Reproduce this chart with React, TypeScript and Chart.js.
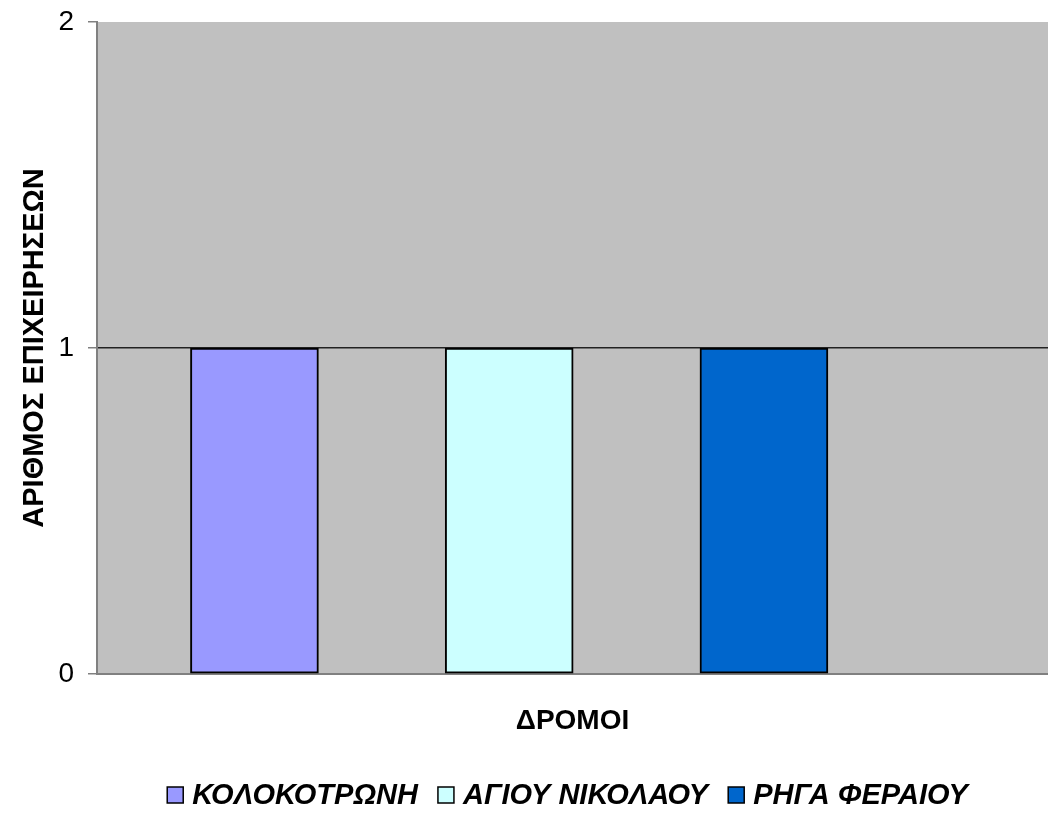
import React, { useEffect, useRef } from "react";
import { Chart, registerables } from "chart.js";

Chart.register(...registerables);

const streets = ["ΚΟΛΟΚΟΤΡΩΝΗ", "ΑΓΙΟΥ ΝΙΚΟΛΑΟΥ", "ΡΗΓΑ ΦΕΡΑΙΟΥ"];
const businessCounts = [1, 1, 1];
const barColors = ["#9999FF", "#CCFFFF", "#0066CC"];
const yTickValues = [0, 1, 2];
const xAxisTitle = "ΔΡΟΜΟΙ";
const yAxisTitle = "ΑΡΙΘΜΟΣ ΕΠΙΧΕΙΡΗΣΕΩΝ";

const FONT = "'Liberation Sans', Arial, Helvetica, sans-serif";

const plotBackground = {
  id: "plotBackground",
  beforeDraw(chart: any) {
    const { ctx, chartArea } = chart;
    ctx.save();
    ctx.fillStyle = "#C0C0C0";
    ctx.fillRect(chartArea.left, chartArea.top, chartArea.right - chartArea.left, chartArea.bottom - chartArea.top);
    ctx.restore();
  },
};

const bottomLegend = {
  id: "bottomLegend",
  afterDraw(chart: any) {
    const { ctx, chartArea } = chart;
    const datasets = chart.data.datasets;
    const font = `italic bold 29px ${FONT}`;
    const box = 16;
    const boxGap = 9;
    const itemGap = 20;
    ctx.save();
    ctx.font = font;
    const widths = datasets.map((d: any) => ctx.measureText(d.label).width);
    const total = widths.reduce((a: number, w: number) => a + box + boxGap + w, 0) + itemGap * (datasets.length - 1);
    const cx = (chartArea.left + chartArea.right) / 2 - 5;
    let x = cx - total / 2;
    const y = 795;
    datasets.forEach((d: any, i: number) => {
      ctx.fillStyle = d.backgroundColor;
      ctx.fillRect(x, y - box / 2, box, box);
      ctx.lineWidth = 1.5;
      ctx.strokeStyle = "#000";
      ctx.strokeRect(x, y - box / 2, box, box);
      x += box + boxGap;
      ctx.fillStyle = "#000";
      ctx.textBaseline = "middle";
      ctx.textAlign = "left";
      ctx.fillText(d.label, x, y + 1);
      x += widths[i] + itemGap;
    });
    ctx.restore();
  },
};

export default function App() {
  const canvasRef = useRef<HTMLCanvasElement | null>(null);

  useEffect(() => {
    if (!canvasRef.current) return;
    const chart = new Chart(canvasRef.current, {
      type: "bar",
      data: {
        datasets: streets.map((s, i) => ({
          label: s,
          data: [{ x: i + 1, y: businessCounts[i] }],
          backgroundColor: barColors[i],
          borderColor: "#000000",
          borderWidth: 2,
          borderSkipped: false,
          grouped: false,
          categoryPercentage: 1,
          barPercentage: 1,
          maxBarThickness: 128,
        })),
      },
      options: {
        animation: false,
        responsive: false,
        layout: { padding: { top: 22, right: 0, bottom: 76, left: 0 } },
        plugins: {
          legend: { display: false },
          tooltip: { enabled: false },
        },
        scales: {
          x: {
            type: "linear",
            offset: false,
            min: 0.382,
            max: 4.115,
            afterBuildTicks: (scale: any) => {
              scale.ticks = streets.map((_, i) => ({ value: i + 1 }));
            },
            afterFit: (scale: any) => {
              scale.height = 64;
              scale.paddingLeft = 0;
              scale.paddingRight = 0;
            },
            ticks: { display: false },
            grid: { display: false },
            border: { display: true, color: "#808080", width: 2 },
            title: {
              display: true,
              text: xAxisTitle,
              color: "#000",
              font: { family: FONT, size: 28, weight: "bold" },
              padding: 0,
            },
          },
          y: {
            min: 0,
            max: 2,
            afterBuildTicks: (scale: any) => {
              scale.ticks = yTickValues.map((v) => ({ value: v }));
            },
            afterFit: (scale: any) => {
              scale.width = 97;
              scale.paddingTop = 0;
              scale.paddingBottom = 0;
            },
            ticks: {
              color: "#000",
              font: { family: FONT, size: 28 },
              padding: 14,
            },
            grid: {
              color: (c: any) => (c.tick && c.tick.value === 1 ? "#222" : "rgba(0,0,0,0)"),
              tickColor: "#808080",
              tickLength: 9,
              lineWidth: 1.5,
            },
            border: { display: true, color: "#808080", width: 2 },
            title: {
              display: true,
              text: yAxisTitle,
              color: "#000",
              font: { family: FONT, size: 29, weight: "bold" },
              padding: { top: 18, bottom: 0 },
            },
          },
        },
      },
      plugins: [plotBackground, bottomLegend],
    } as any);
    return () => chart.destroy();
  }, []);

  return (
    <div style={{ position: "absolute", left: 0, top: 0, width: 1048, height: 814 }}>
      <canvas ref={canvasRef} width={1048} height={814} style={{ display: "block" }} />
    </div>
  );
}
